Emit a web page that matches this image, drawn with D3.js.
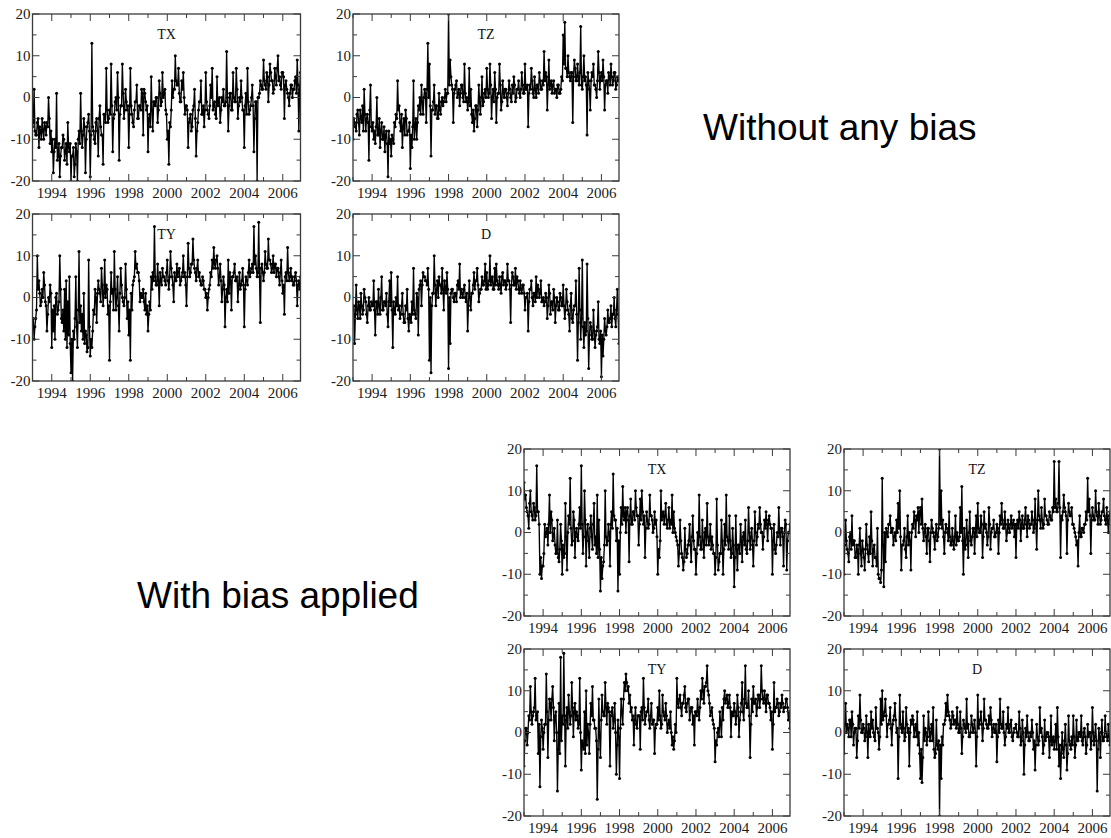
<!DOCTYPE html>
<meta charset="UTF-8">
<style>
body { margin: 0; background: #fff; }
svg { display: block; }
.frame { fill: none; stroke: #3a3a3a; stroke-width: 1.3px; }
.tk { stroke: #3a3a3a; stroke-width: 1px; }
.series { fill: none; stroke: #000; stroke-width: 1.35px; }
.dot { fill: #000; }
.lbl { font: 15px "Liberation Serif", "DejaVu Serif", serif; fill: #1a1a1a; }
.ttl { font: 14px "Liberation Serif", "DejaVu Serif", serif; fill: #111; }
.note { font: 37px "Liberation Sans", Arial, sans-serif; fill: #000; }
</style>
<body>
<script src="https://d3js.org/d3.v7.min.js"></script>
<script>

// readings at the start and the middle of each month, Jan 1993 .. Dec 2006
var startYear = 1993;
var yearLabels = [1994, 1996, 1998, 2000, 2002, 2004, 2006];
var minorYears = [1993, 1995, 1997, 1999, 2001, 2003, 2005];
var yMajor = [-20, -10, 0, 10, 20];
var yMinor = [-15, -5, 5, 15];

// ---- without any bias ----
var txPlain = [
  -7, 2, -9, -6, -12, -8, -5, -10, -7, -6, 0, -11,
  -13, -18, -10, 1, -14, -19, -12, -9, -15, -11, -6, -13,
  -20, -14, -19, -11, -20, -8, 1, -12, -5, -18, -7, -4,
  -19, 13, -8, -11, -5, -14, -2, -9, -16, -4, 7, -6,
  -3, 8, -13, -4, 0, 6, -15, -2, 8, -5, 2, -3,
  -12, 7, -4, -7, -1, 3, -5, -2, 2, -9, 1, -3,
  -13, -4, 5, -8, -1, 0, -6, 4, -2, 6, 1, -3,
  -10, -16, -7, 4, 2, 10, 3, 7, -1, 4, 6, -4,
  -2, -12, -5, -8, -3, 2, -14, -6, -1, 4, -4, -7,
  6, -3, -5, 3, 7, -2, -4, 5, -1, -6, 0, 2,
  -2, 11, -8, 1, -3, 6, -1, 7, -5, 0, 4, -3,
  -12, 1, 7, -4, -2, 3, -13, -1, -20, 0, 4, 2,
  9, 3, 6, -1, 8, 4, 1, 7, 3, 10, 5, 2,
  6, -5, 4, 1, -2, 3, 0, 2, 5, 9, -8, 6
];
var txPlainMid = [
  -6, -8, -9, -5, -7, -10, -8, -6, -9, -7, -5, -8,
  -10, -13, -12, -15, -11, -14, -12, -10, -13, -16, -12, -11,
  -14, -12, -16, -13, -10, -11, -8, -9, -7, -10, -6, -8,
  -9, -7, -10, -6, -8, -5, -7, -9, -4, -6, -3, -5,
  -4, -2, -5, -1, -3, 0, -4, -2, 1, -3, -1, -2,
  -4, -2, -6, -3, -1, -5, -2, -3, 1, 2, -1, -2,
  -5, -7, -3, -1, -2, 0, -3, 1, -1, 0, 2, -4,
  -8, -6, -3, 0, 2, 4, 3, 1, -1, 2, 0, -2,
  -3, -6, -4, -7, -2, -5, -8, -3, -1, -4, -2, -3,
  -1, -4, -2, 0, -3, -1, -5, -2, 0, -3, -1, -2,
  -1, 0, -2, 1, -3, 0, -1, 2, -2, -1, 0, -3,
  -2, -4, -1, -3, 0, -2, -5, -1, 0, 1, 3, 2,
  4, 2, 5, 3, 6, 4, 2, 5, 7, 4, 3, 6,
  5, 3, 2, 0, 1, 3, 2, 4, 1, 3, 2, 0
];
var tzPlain = [
  -10, -6, -8, -3, -9, -5, -2, 2, -8, -4, -15, 3,
  -8, -10, -11, 0, -9, -12, -6, -10, -13, -8, -19, -11,
  -14, -10, -6, -4, 4, -2, -8, -12, -5, -3, -9, -8,
  -17, -12, 4, -7, -10, -2, 0, 3, -4, 2, -6, 13,
  8, -14, -3, 3, -2, -5, 1, -4, 0, -1, 2, 1,
  20, 9, 3, -6, 2, 4, 1, -2, 3, 0, 8, -1,
  -3, 7, 2, -6, -8, -2, -7, 3, -4, 5, -1, 2,
  7, 0, 8, -5, 2, 6, -6, 1, 8, -3, 4, 0,
  2, -2, 4, 0, 3, 5, -1, 2, 4, 0, 6, 1,
  8, 2, -7, 3, 7, 1, 5, 0, 3, 6, 2, 4,
  11, 6, -3, 9, 3, 1, 4, 2, 0, 3, 1, 5,
  15, 18, 7, 10, 5, 6, -6, 9, 4, 8, 3, 17,
  2, 10, 5, -9, 4, -3, 6, 8, 3, 0, 11, 2,
  6, 9, -3, 4, 1, 5, 8, 3, 6, 2, 5, 4
];
var tzPlainMid = [
  -5, -7, -4, -6, -3, -6, -8, -4, -5, -6, -3, -7,
  -6, -8, -7, -9, -5, -8, -10, -7, -9, -11, -8, -10,
  -9, -11, -7, -5, -3, -6, -4, -7, -9, -5, -8, -6,
  -9, -7, -10, -5, -6, -3, -4, -1, 0, 1, 2, 0,
  -2, -3, -1, -4, -2, -5, -3, -1, -2, 0, -1, 1,
  3, 5, 2, 1, 3, 0, 2, 1, 3, -1, 1, 0,
  -1, -2, -4, -3, -5, -2, -3, -1, 0, -2, 1, 0,
  2, 1, 3, 0, -1, 2, 0, 1, 3, -1, 1, 2,
  0, 1, 2, -1, 1, 3, 0, 2, 1, 2, 3, 1,
  2, 3, 1, 2, 4, 0, 2, 3, 1, 4, 2, 3,
  4, 5, 3, 2, 4, 3, 1, 2, 3, 1, 2, 4,
  8, 7, 5, 6, 4, 6, 5, 7, 4, 5, 6, 3,
  5, 4, 3, 6, 2, 4, 5, 3, 2, 4, 6, 5,
  4, 5, 3, 4, 6, 3, 5, 4, 6, 3, 4, 5
];
var tyPlain = [
  -6, -10, -5, 10, 4, -2, 2, 6, -1, -8, 0, 3,
  -12, -8, -10, 1, -3, 10, -5, -3, 2, 4, -1, 5,
  -18, -20, -10, 5, -12, 11, -2, -4, 1, -8, -13, 9,
  -14, -12, -3, 2, -6, 4, 1, 7, -2, 9, 3, -4,
  -15, 6, 2, 11, -3, 5, -8, 7, 0, -2, 8, -5,
  -9, -15, -3, 4, 11, 8, 6, -1, 0, 2, -3, -4,
  -8, -1, 5, 6, 17, 3, 8, -2, 4, 7, 5, 3,
  9, 2, 11, 5, -1, 4, 8, 6, 3, 5, 10, 6,
  -2, 13, 5, 8, 14, 7, 4, 9, 6, 3, 5, 2,
  0, -3, 2, 6, 9, 12, 7, 10, 3, 8, -1, 5,
  -7, 2, 9, 6, -3, 5, 8, 4, -1, 6, 3, 7,
  -7, 5, 3, 9, 6, 8, 17, 10, 5, 18, -6, 8,
  4, 11, 7, 14, 9, 6, 10, 8, 5, 7, 3, 9,
  1, -4, 6, 12, 4, 7, 5, 3, 6, -2, 4, 5
];
var tyPlainMid = [
  -5, -7, -3, 2, 1, -1, 0, 3, -2, -4, -1, 1,
  -3, -2, 0, -4, -1, 2, -6, -8, -10, -12, -9, -11,
  -10, -8, -5, -7, -3, -6, -8, -10, -11, -9, -12, -7,
  -10, -8, -4, 0, 1, 2, -1, 3, 1, 0, 2, -2,
  -1, 1, -3, 2, 0, -2, 1, 3, -1, 0, 2, -1,
  -3, 1, 3, 5, 7, 6, 4, 1, 0, -1, 1, -2,
  -4, -3, 2, 4, 5, 3, 4, 6, 3, 5, 4, 6,
  4, 5, 7, 3, 6, 4, 5, 7, 4, 6, 5, 3,
  5, 7, 6, 8, 9, 6, 7, 5, 4, 3, 4, 2,
  1, 0, 3, 5, 7, 8, 9, 7, 5, 4, 2, 3,
  0, -1, 1, 4, 5, 6, 4, 5, 3, 2, 4, 3,
  2, 4, 6, 5, 7, 6, 8, 7, 6, 5, 7, 6,
  6, 8, 7, 9, 8, 7, 6, 8, 7, 5, 6, 4,
  3, 5, 4, 6, 5, 4, 3, 5, 4, 3, 2, 4
];
var dPlain = [
  -3, -11, 3, -5, -2, 1, -4, 2, -1, -6, 0, -3,
  -2, 4, -9, -1, 2, -4, 5, -3, -1, 1, -7, 4,
  6, -12, -3, 0, 5, -2, -4, 1, -6, -2, 2, -8,
  -5, -1, 7, -4, 1, -9, 3, -2, 6, 5, 4, 7,
  -15, -18, 1, 10, -2, 4, 5, 3, 7, -3, 2, 6,
  -17, -11, 2, 0, 1, -1, 4, 8, 2, 0, 3, -1,
  -8, 4, -3, 1, 6, 4, 7, -1, 2, 5, 3, 8,
  6, 3, 10, 4, 2, 7, 8, 3, 5, 1, 6, 4,
  2, 8, 4, -6, 6, 3, 7, 5, 2, 4, 1, 3,
  -3, 0, -8, 2, 4, -2, 1, 5, 3, 0, 4, -1,
  -2, 1, -5, 3, -4, -1, 2, -6, 0, -3, 1, -2,
  3, -5, 2, -3, -8, 1, -6, -2, 4, -15, 7, -10,
  9, -12, -9, 8, -17, -6, -10, -3, -12, -8, -1, -11,
  -19, -14, -5, -9, -3, -6, -2, -4, 0, -7, 2, -11
];
var dPlainMid = [
  -2, -4, -3, -1, -5, -2, -3, 0, -4, -2, -3, -1,
  -2, -3, -1, -4, -2, 0, -3, -1, -2, -4, -1, -2,
  -3, -1, -4, -2, -3, -5, -2, -4, -6, -3, -5, -4,
  -6, -4, -3, -5, 0, 2, 4, 3, 5, 4, 3, 2,
  0, -2, 1, 3, 2, 0, 3, 1, 2, 4, 1, 2,
  0, 1, 2, -1, 1, 3, 2, 0, 1, 2, 0, 1,
  -2, 0, 1, 3, 2, 4, 3, 1, 2, 3, 4, 2,
  2, 4, 3, 5, 2, 3, 4, 2, 3, 5, 3, 4,
  3, 4, 2, 3, 5, 3, 2, 4, 1, 2, 3, 1,
  0, 1, -1, 2, 0, 1, -1, 0, 2, 1, -1, 0,
  -1, 0, -2, 1, -1, -3, 0, -2, -1, -3, 0, -2,
  -2, -3, -1, -4, -2, -5, -3, -2, -4, -6, -3, -5,
  -7, -6, -8, -5, -9, -7, -10, -8, -9, -7, -10, -8,
  -9, -10, -8, -7, -6, -5, -7, -4, -5, -3, -4, -6
];

// ---- with bias applied ----
var txBias = [
  12, 9, 5, 1, 10, 4, 7, 3, 16, 5, -10, -11,
  -8, 2, 0, -3, 9, 5, -2, 1, -5, 3, -7, 2,
  -10, -6, 7, -9, 4, 13, -3, 5, -6, 1, -2, 6,
  16, -5, 10, -8, 2, -6, 4, -4, 7, -1, 9, 3,
  -14, -11, -7, 10, -3, 2, -8, 5, 14, 3, -2, -14,
  -10, 6, 11, 3, 0, 6, -7, 8, 2, 5, 10, 4,
  -3, 8, 10, 2, -6, 5, 1, 9, 4, 0, 5, 3,
  -10, -6, 10, 4, 2, 7, 1, 6, 3, 9, 5, 0,
  -2, -8, 3, -5, -9, 1, -6, -3, 2, -7, 4, -4,
  -10, 0, 9, -4, 3, -6, 1, 7, -3, 2, -1, -5,
  -10, 8, -9, -5, 3, -10, 2, 9, -2, 4, -6, 1,
  -13, 4, -9, -3, 2, -7, 0, 3, -5, 6, -4, 1,
  -8, 5, -3, 2, 6, 0, -4, 3, 5, -2, 4, 1,
  -10, 2, -5, 0, 6, -3, 1, -8, 3, -9, 0, 2
];
var txBiasMid = [
  8, 6, 4, 7, 5, 3, 6, 4, 5, 2, -6, -8,
  -5, -1, 1, 2, 0, 3, -1, -3, -5, -6, -4, -2,
  -3, -5, -1, 0, 2, 1, -2, 3, 0, -1, 2, 1,
  2, -1, 3, 0, -2, 1, -1, 2, -3, -5, -6, -4,
  -6, -8, -3, -1, -2, 0, 2, 1, 4, 3, 1, -2,
  0, 2, 4, 6, 5, 3, 4, 2, 5, 3, 6, 4,
  2, 3, 5, 4, 1, 3, 2, 4, 3, 1, 2, -1,
  -4, -2, 3, 5, 4, 2, 3, 1, 2, 0, 1, -1,
  -3, -5, -2, -6, -7, -4, -5, -2, -3, -1, -2, -4,
  -5, -3, -1, -4, -2, 0, -3, -1, -2, -4, -3, -5,
  -6, -3, -7, -5, -2, -4, -3, -1, -4, -2, -5, -3,
  -6, -4, -3, -5, -2, -1, -3, -4, -2, 0, -1, -3,
  -2, 0, -1, 1, 2, 0, -1, 1, 2, 3, 2, 1,
  -2, -4, -3, -1, 0, 1, -1, 0, 2, -2, 0, 1
];
var tzBias = [
  -10, 3, -4, -7, 0, 4, -2, -6, -3, -10, 1, -8,
  -4, -9, 2, -5, -1, 5, -8, -3, -6, 1, -11, -12,
  13, -13, -7, 0, 2, 4, 1, -3, 0, 3, 7, 10,
  -9, -3, 1, -6, 4, 0, -9, 2, 5, -1, 3, 0,
  6, 8, -2, 2, -5, 1, -7, 3, 0, -4, 2, -1,
  20, 10, 3, -5, 2, 0, 5, -3, 1, -4, 4, 0,
  -2, 6, 11, -10, -4, 3, -6, 5, -3, 1, -5, 4,
  7, 0, 4, -6, 5, 2, -3, 6, -4, 1, 3, -1,
  2, -5, 4, 7, 1, 5, -2, 3, 0, 4, 2, -1,
  -6, 3, 5, -2, 4, 1, 6, -1, 3, 2, 5, 0,
  8, -4, 10, 3, 6, 1, 8, 4, 2, 5, 3, 6,
  17, 8, 5, 17, -6, 3, 9, 5, -5, 7, 4, 6,
  2, 0, -3, -8, 4, -1, 1, 2, 5, 13, 8, -5,
  6, 3, 10, 4, 7, 2, 5, 8, 3, 6, 0, 5
];
var tzBiasMid = [
  -3, -2, -5, -1, -4, -3, -2, -6, -4, -3, -5, -2,
  -6, -4, -3, -7, -5, -2, -4, -6, -8, -10, -11, -9,
  -3, 0, 1, -1, 2, 0, 1, -1, -2, 0, 1, -1,
  -3, -2, -4, -1, -3, -2, 0, 1, 3, 4, 6, 5,
  2, 1, 0, -1, 1, -2, 0, 1, -1, 0, -2, 1,
  2, 1, -1, 0, 1, -2, -1, -3, -2, -1, -3, -2,
  -1, 0, -2, 1, -3, -1, 0, -2, -1, 1, 0, -1,
  1, 0, 2, -1, 1, 0, -1, 2, 0, 1, -1, 0,
  1, 0, 2, 3, 1, 2, 0, 1, 2, 1, 3, 2,
  2, 1, 3, 2, 1, 3, 2, 4, 1, 2, 3, 1,
  2, 3, 4, 1, 3, 2, 4, 3, 2, 4, 3, 5,
  6, 5, 7, 6, 4, 5, 6, 4, 3, 5, 4, 2,
  1, -1, -2, 0, -1, 1, 0, 2, 3, 5, 4, 3,
  4, 3, 5, 2, 4, 3, 5, 4, 2, 3, 4, 2
];
var tyBias = [
  -8, 1, -3, 4, 11, 2, 5, 13, 4, -5, -13, 3,
  -4, 2, 14, -6, 8, 3, 11, -2, 5, -14, 7, 18,
  4, 19, -8, 6, 9, 2, 12, -1, 7, 5, 1, 13,
  -9, -3, 5, 10, 2, -5, 7, 11, 3, 1, -16, 8,
  -6, 9, 4, 12, 2, 6, -8, 5, 1, 7, -10, 3,
  -11, 8, 2, 12, 14, 10, 7, 5, 3, -3, 6, 1,
  4, -4, 6, 13, 2, 5, 8, 1, 7, 3, -5, 2,
  6, 10, 1, 9, 4, 7, 0, 3, 5, -3, -4, 2,
  13, 6, 9, 4, 7, 11, 5, 8, 3, 6, 2, -3,
  5, 8, 3, 10, 13, 7, 11, 16, 9, 4, 6, 2,
  -7, -3, 1, 5, -1, 3, 10, 8, 6, 9, -1, 4,
  7, 2, 9, -1, 5, 12, 3, 16, 6, 10, -6, 8,
  11, 7, 4, 9, 6, 16, 8, 10, 5, 9, 7, 3,
  -4, 12, 6, 8, 4, 7, 9, 5, 6, 8, 3, 1
];
var tyBiasMid = [
  -2, 1, 0, 3, 5, 4, 6, 3, 5, 2, -1, 1,
  0, 2, 5, 3, 7, 8, 6, 4, 0, -4, -5, -2,
  2, 4, 3, 1, 5, 4, 6, 5, 3, 4, 2, 0,
  -2, -4, -5, -3, 0, 2, 4, 3, 1, -2, -4, -1,
  3, 5, 4, 6, 7, 5, 4, 6, 3, 0, -3, -1,
  1, 5, 8, 10, 12, 11, 9, 6, 4, 3, 2, 4,
  4, 5, 3, 6, 4, 5, 3, 4, 2, 3, 1, 2,
  3, 4, 2, 5, 3, 4, 2, 1, 0, -1, -2, 0,
  7, 8, 6, 7, 9, 6, 7, 8, 5, 6, 4, 5,
  4, 5, 6, 8, 10, 11, 12, 10, 7, 5, 3, 1,
  -2, 0, -1, 2, 6, 8, 7, 9, 7, 6, 5, 4,
  5, 4, 6, 3, 7, 5, 8, 7, 6, 4, 2, 5,
  7, 8, 6, 9, 8, 10, 7, 8, 9, 7, 6, 5,
  2, 5, 6, 7, 5, 6, 7, 6, 8, 6, 5, 4
];
var dBias = [
  -5, 7, 2, -1, 3, 5, -3, 1, -6, 4, 9, 0,
  2, -2, 4, -6, 0, 5, 3, -1, 6, 1, -4, 8,
  10, 4, 8, -1, 2, 6, -3, 3, 7, 0, -11, 9,
  1, 5, -2, 6, 0, -8, 3, 4, -1, 2, 5, 0,
  -11, -12, 4, 1, -3, 5, -2, 2, 6, -6, 3, -4,
  -20, -11, -3, 2, 7, 9, 4, 1, 5, 2, 3, 6,
  0, 5, -5, 3, 1, 8, 2, -1, 4, 0, 3, -8,
  9, 2, 5, -2, 8, 3, 1, 4, 6, -1, 2, 0,
  -7, 3, 8, 1, 5, -3, 2, 6, 0, 3, -2, 1,
  2, -1, 5, -3, 3, -10, 1, 4, -2, 0, 3, -4,
  -9, 2, -3, 6, 1, -5, 3, -1, 0, -6, 4, -2,
  -4, 2, 6, -8, -11, 0, -6, 2, -9, 4, -3, -1,
  4, -6, 3, -2, 0, 4, -3, 1, -5, 2, 0, -4,
  6, -3, 2, -14, 1, -6, 3, -2, 4, -1, 2, -3
];
var dBiasMid = [
  2, 0, 1, 3, -1, 2, 0, 1, -2, 1, 3, 0,
  1, -1, 0, 2, -1, 1, 0, -2, 1, 0, -1, 2,
  3, 5, 4, 2, 3, 1, 2, 4, 3, 1, -1, 2,
  0, 1, -1, 2, 1, 0, 2, 3, 1, -1, -3, -5,
  -4, -6, -2, 0, -1, 1, 0, -2, -4, -5, -3, -2,
  -3, -1, 2, 3, 4, 5, 3, 2, 4, 3, 1, 2,
  0, 1, -1, 2, 0, 1, -1, 0, 2, 1, 0, -1,
  1, 3, 2, 1, 3, 2, 1, 2, 3, 1, 0, 2,
  -1, 0, 2, 1, 0, -1, 1, 0, 2, -1, 0, 1,
  0, -1, 1, -2, 0, -3, -1, 0, -2, -1, 0, -2,
  -3, -1, -2, 0, -1, -3, -2, 0, -1, -2, -3, -1,
  -2, -4, -1, -3, -5, -4, -2, -3, -5, -2, -4, -3,
  -1, -3, -2, 0, -1, -2, 0, -1, -3, -1, 0, -2,
  0, -1, -2, -4, -1, 0, -2, -1, 0, -2, -1, 0
];

var panels = [
  {title: "TX", a: txPlain, b: txPlainMid, x: 32.5, y: 14, w: 268, h: 167},
  {title: "TZ", a: tzPlain, b: tzPlainMid, x: 353, y: 14, w: 266, h: 167},
  {title: "TY", a: tyPlain, b: tyPlainMid, x: 32.5, y: 214, w: 268, h: 167},
  {title: "D",  a: dPlain,  b: dPlainMid,  x: 353, y: 214, w: 266, h: 167},
  {title: "TX", a: txBias, b: txBiasMid, x: 524, y: 449, w: 266, h: 167},
  {title: "TZ", a: tzBias, b: tzBiasMid, x: 844, y: 449, w: 266, h: 167},
  {title: "TY", a: tyBias, b: tyBiasMid, x: 524, y: 649, w: 266, h: 167},
  {title: "D",  a: dBias,  b: dBiasMid,  x: 844, y: 649, w: 266, h: 167}
];

var svg = d3.select("body").append("svg")
    .attr("width", 1111)
    .attr("height", 838);

panels.forEach(function(p, k) {
  var x = d3.scaleLinear().domain([1993, 2006.92]).range([0, p.w]);
  var y = d3.scaleLinear().domain([-20, 20]).range([p.h, 0]);

  var g = svg.append("g").attr("transform", "translate(" + p.x + "," + p.y + ")");

  g.append("clipPath").attr("id", "clip" + k)
    .append("rect").attr("width", p.w).attr("height", p.h);

  // interleave start-of-month and mid-month readings
  var pts = [];
  p.a.forEach(function(v, i) {
    pts.push({t: startYear + i / 12, v: v});
    pts.push({t: startYear + (i + 0.5) / 12, v: p.b[i]});
  });

  var line = d3.line()
      .x(function(d) { return x(d.t); })
      .y(function(d) { return y(d.v); });

  var plot = g.append("g").attr("clip-path", "url(#clip" + k + ")");
  plot.append("path").datum(pts).attr("class", "series").attr("d", line);
  plot.selectAll("circle").data(pts).enter().append("circle")
      .attr("class", "dot")
      .attr("cx", function(d) { return x(d.t); })
      .attr("cy", function(d) { return y(d.v); })
      .attr("r", 1.5);

  // inward ticks on all four sides
  function xTicks(vals, len) {
    vals.forEach(function(t) {
      g.append("line").attr("class", "tk")
        .attr("x1", x(t)).attr("x2", x(t)).attr("y1", p.h).attr("y2", p.h - len);
      g.append("line").attr("class", "tk")
        .attr("x1", x(t)).attr("x2", x(t)).attr("y1", 0).attr("y2", len);
    });
  }
  function yTicks(vals, len) {
    vals.forEach(function(v) {
      g.append("line").attr("class", "tk")
        .attr("x1", 0).attr("x2", len).attr("y1", y(v)).attr("y2", y(v));
      g.append("line").attr("class", "tk")
        .attr("x1", p.w).attr("x2", p.w - len).attr("y1", y(v)).attr("y2", y(v));
    });
  }
  xTicks(yearLabels, 7);
  xTicks(minorYears, 4);
  yTicks(yMajor, 7);
  yTicks(yMinor, 4);

  g.append("rect").attr("class", "frame").attr("width", p.w).attr("height", p.h);

  g.selectAll("text.xl").data(yearLabels).enter().append("text")
      .attr("class", "lbl xl")
      .attr("x", function(d) { return x(d); })
      .attr("y", p.h + 16.5)
      .attr("text-anchor", "middle")
      .text(function(d) { return d; });

  g.selectAll("text.yl").data(yMajor).enter().append("text")
      .attr("class", "lbl yl")
      .attr("x", -2)
      .attr("y", function(d) { return y(d); })
      .attr("dy", "0.33em")
      .attr("text-anchor", "end")
      .text(function(d) { return d; });

  g.append("text").attr("class", "ttl")
      .attr("x", p.w / 2)
      .attr("y", 25)
      .attr("text-anchor", "middle")
      .text(p.title);
});

svg.append("text").attr("class", "note").attr("x", 703).attr("y", 140).text("Without any bias");
svg.append("text").attr("class", "note").attr("x", 137).attr("y", 608).text("With bias applied");

</script>
</body>
